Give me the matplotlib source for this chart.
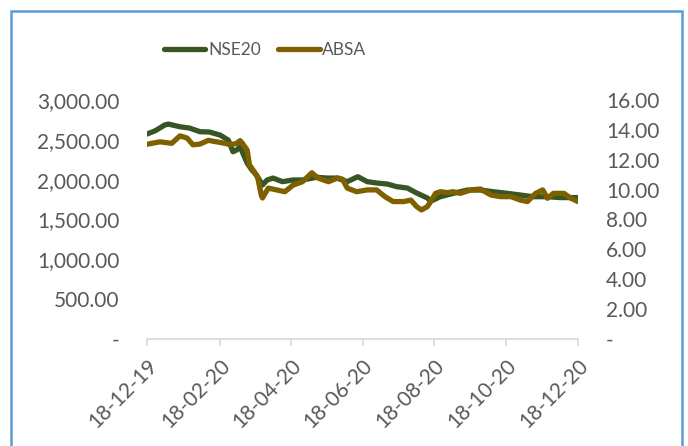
import matplotlib
matplotlib.use("Agg")
import matplotlib.pyplot as plt
import matplotlib.dates as mdates
from matplotlib.patches import Rectangle
import pandas as pd

plt.rcParams['font.family'] = ['Lato', 'DejaVu Sans']

# NSE20 index (left axis)
nse_dates = ["2019-12-18", "2019-12-25", "2020-01-02", "2020-01-05", "2020-01-15",
             "2020-01-23", "2020-02-01", "2020-02-09", "2020-02-18", "2020-02-25",
             "2020-02-29", "2020-03-03", "2020-03-06", "2020-03-12", "2020-03-16",
             "2020-03-20", "2020-03-25", "2020-03-29", "2020-04-03", "2020-04-11",
             "2020-04-20", "2020-04-28", "2020-05-10", "2020-05-19", "2020-05-27",
             "2020-06-05", "2020-06-14", "2020-06-22", "2020-06-30", "2020-07-09",
             "2020-07-17", "2020-07-26", "2020-08-03", "2020-08-12", "2020-08-15",
             "2020-08-23", "2020-09-03", "2020-09-15", "2020-09-26", "2020-10-07",
             "2020-10-19", "2020-10-30", "2020-11-10", "2020-11-22", "2020-12-03",
             "2020-12-18"]
nse_values = [2573, 2614, 2686, 2698, 2664,
              2648, 2602, 2598, 2560, 2497,
              2350, 2372, 2413, 2209, 2121,
              2058, 1933, 1996, 2020, 1975,
              1996, 1996, 2030, 2020, 2020,
              1975, 2037, 1975, 1958, 1945,
              1912, 1895, 1832, 1770, 1730,
              1786, 1828, 1870, 1870, 1849,
              1828, 1807, 1786, 1786, 1775,
              1775]

# ABSA share price (right axis)
absa_dates = ["2019-12-18", "2019-12-29", "2020-01-08", "2020-01-15", "2020-01-21",
              "2020-01-26", "2020-02-01", "2020-02-08", "2020-02-15", "2020-02-22",
              "2020-02-27", "2020-03-03", "2020-03-06", "2020-03-08", "2020-03-12",
              "2020-03-14", "2020-03-18", "2020-03-21", "2020-03-24", "2020-03-25",
              "2020-03-30", "2020-04-06", "2020-04-13", "2020-04-20", "2020-04-28",
              "2020-05-06", "2020-05-11", "2020-05-20", "2020-05-28", "2020-06-01",
              "2020-06-05", "2020-06-13", "2020-06-22", "2020-06-30", "2020-07-07",
              "2020-07-14", "2020-07-23", "2020-07-29", "2020-08-03", "2020-08-07",
              "2020-08-12", "2020-08-14", "2020-08-19", "2020-08-23", "2020-08-29",
              "2020-09-03", "2020-09-09", "2020-09-18", "2020-09-26", "2020-10-05",
              "2020-10-13", "2020-10-22", "2020-10-30", "2020-11-05", "2020-11-12",
              "2020-11-18", "2020-11-22", "2020-11-27", "2020-12-06", "2020-12-12",
              "2020-12-18"]
absa_values = [13.04, 13.2, 13.1, 13.6, 13.45,
               13.0, 13.05, 13.3, 13.2, 13.1,
               13.0, 13.1, 13.28, 13.1, 12.65,
               11.65, 11.2, 10.8, 9.64, 9.44,
               10.1, 9.98, 9.86, 10.3, 10.53,
               11.13, 10.78, 10.53, 10.78, 10.7,
               10.1, 9.86, 9.98, 9.98, 9.53,
               9.2, 9.2, 9.3, 8.86, 8.64,
               8.86, 9.1, 9.75, 9.86, 9.8,
               9.86, 9.75, 9.98, 10.04, 9.64,
               9.53, 9.53, 9.3, 9.2, 9.75,
               9.98, 9.42, 9.75, 9.75, 9.42,
               9.2]

tick_dates = ["2019-12-18", "2020-02-18", "2020-04-18", "2020-06-18",
              "2020-08-18", "2020-10-18", "2020-12-18"]

text_col = '#595959'
green = '#375623'
gold = '#7F6000'

fig = plt.figure(figsize=(6.88, 4.46), dpi=100)
ax = fig.add_axes([0.2137, 0.2399, 0.6265, 0.5359])
ax2 = ax.twinx()

l1, = ax.plot(pd.to_datetime(nse_dates), nse_values, color=green, lw=3.8,
              solid_capstyle='round', solid_joinstyle='round', label='NSE20')
l2, = ax2.plot(pd.to_datetime(absa_dates), absa_values, color=gold, lw=3.8,
               solid_capstyle='round', solid_joinstyle='round', label='ABSA')

ax.set_xlim(pd.Timestamp("2019-12-18"), pd.Timestamp("2020-12-18"))
ax.set_ylim(0, 3000)
ax2.set_ylim(0, 16)

ax.set_yticks(range(0, 3001, 500))
ax.set_yticklabels(['-'] + [f'{v:,.2f}' for v in range(500, 3001, 500)])
ax2.set_yticks(range(0, 17, 2))
ax2.set_yticklabels(['-'] + [f'{v:.2f}' for v in range(2, 17, 2)])

ax.set_xticks(pd.to_datetime(tick_dates))
ax.xaxis.set_major_formatter(mdates.DateFormatter('%d-%m-%y'))
for lbl in ax.get_xticklabels():
    lbl.set_rotation(45)
    lbl.set_ha('right')
    lbl.set_rotation_mode('anchor')

for a in (ax, ax2):
    for s in a.spines.values():
        s.set_visible(False)
    a.tick_params(axis='y', length=0, labelsize=15, colors=text_col)
ax.tick_params(axis='y', pad=20)
ax2.tick_params(axis='y', pad=20)
ax.spines['bottom'].set_visible(True)
ax.spines['bottom'].set_color('#D9D9D9')
ax.spines['bottom'].set_linewidth(1.2)
ax.tick_params(axis='x', length=5, width=1.2, color='#D9D9D9',
               labelsize=15, labelcolor=text_col, pad=7)

fig.legend(handles=[l1, l2], loc='center', bbox_to_anchor=(265 / 688, 0.888),
           ncol=2, frameon=False, fontsize=12.5, handlelength=2.4,
           handletextpad=0.15, columnspacing=1.0, labelcolor=text_col)

fig.patches.append(Rectangle((11 / 688, -0.02), 671 / 688, 1 - 11 / 446 + 0.02,
                             transform=fig.transFigure, fill=False,
                             edgecolor='#5B9BD5', lw=1.8))

fig.savefig('out.png', dpi=100)
